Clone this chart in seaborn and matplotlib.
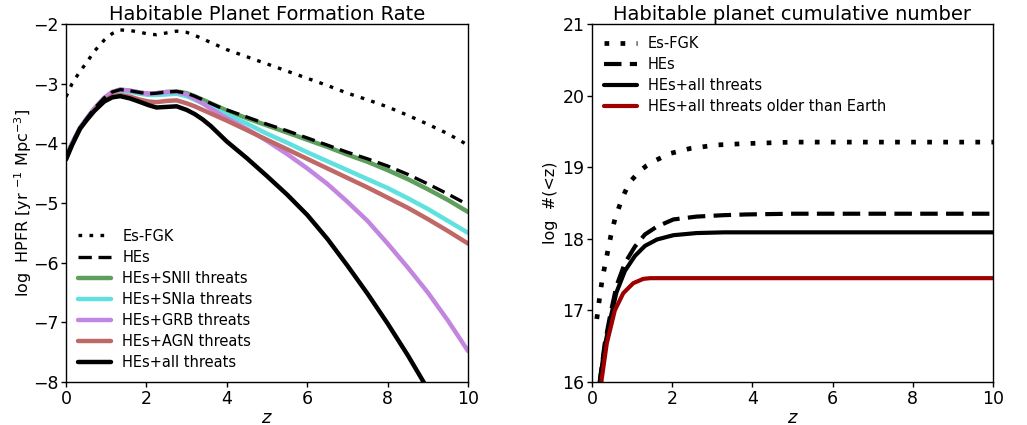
import matplotlib
matplotlib.use("Agg")
import matplotlib.pyplot as plt
import seaborn as sns
import numpy as np

# ---------------- Left panel data (log HPFR) ----------------
z_left = [0.0, 0.15, 0.35, 0.5, 0.7, 0.95, 1.15, 1.35, 1.6, 1.85, 2.05, 2.25, 2.5, 2.75, 3.0, 3.2, 3.4,
          3.6, 3.8, 4.0, 4.5, 5.0, 5.5, 6.0, 6.5, 7.0, 7.5, 8.0, 8.5, 9.0, 9.5, 10.0]

es_fgk = [-3.22, -3.00, -2.79, -2.66, -2.46, -2.27, -2.16, -2.10, -2.11, -2.14, -2.17, -2.18, -2.15, -2.12, -2.14, -2.19, -2.25,
          -2.31, -2.37, -2.43, -2.55, -2.67, -2.79, -2.91, -3.03, -3.16, -3.27, -3.39, -3.53, -3.68, -3.84, -4.03]

hes = [-4.24, -4.00, -3.74, -3.60, -3.42, -3.24, -3.14, -3.10, -3.12, -3.15, -3.17, -3.16, -3.14, -3.13, -3.16, -3.21, -3.27,
       -3.33, -3.39, -3.44, -3.56, -3.68, -3.79, -3.91, -4.03, -4.15, -4.26, -4.38, -4.52, -4.68, -4.85, -5.03]

snii = [-4.24, -4.00, -3.74, -3.60, -3.42, -3.24, -3.14, -3.10, -3.12, -3.15, -3.17, -3.16, -3.14, -3.13, -3.16, -3.21, -3.27,
        -3.33, -3.39, -3.45, -3.58, -3.70, -3.82, -3.94, -4.06, -4.19, -4.31, -4.45, -4.60, -4.77, -4.95, -5.15]

snia = [-4.24, -4.00, -3.74, -3.60, -3.42, -3.25, -3.16, -3.12, -3.14, -3.17, -3.19, -3.19, -3.18, -3.17, -3.21, -3.27, -3.33,
        -3.40, -3.46, -3.52, -3.67, -3.84, -3.99, -4.15, -4.30, -4.45, -4.60, -4.75, -4.92, -5.10, -5.30, -5.50]

grb = [-4.24, -4.00, -3.74, -3.60, -3.42, -3.24, -3.14, -3.10, -3.12, -3.15, -3.17, -3.16, -3.14, -3.14, -3.18, -3.25, -3.33,
       -3.42, -3.50, -3.58, -3.76, -3.96, -4.18, -4.42, -4.68, -4.98, -5.30, -5.68, -6.08, -6.50, -6.97, -7.48]

agn = [-4.26, -4.02, -3.76, -3.62, -3.45, -3.28, -3.21, -3.19, -3.22, -3.27, -3.30, -3.31, -3.29, -3.28, -3.33, -3.38, -3.44,
       -3.50, -3.56, -3.62, -3.78, -3.94, -4.10, -4.26, -4.42, -4.58, -4.74, -4.91, -5.08, -5.27, -5.47, -5.68]

all_thr = [-4.27, -4.03, -3.75, -3.62, -3.46, -3.30, -3.23, -3.21, -3.25, -3.31, -3.36, -3.40, -3.39, -3.38, -3.44, -3.51, -3.60,
           -3.71, -3.84, -3.97, -4.25, -4.55, -4.86, -5.20, -5.60, -6.05, -6.52, -7.02, -7.55, -8.12, -8.70, -9.30]

# ---------------- Right panel data (log cumulative number) ----------------
z_right = [0.12, 0.15, 0.19, 0.26, 0.37, 0.47, 0.57, 0.68, 0.78, 0.88, 0.99, 1.18, 1.36, 1.57, 1.94, 2.44, 3.1, 3.85, 5.0, 7.0, 10.0]

cum_es_fgk = [16.88, 17.00, 17.18, 17.45, 17.76, 18.04, 18.27, 18.45, 18.60, 18.72, 18.82, 18.94, 19.02, 19.09, 19.19, 19.26, 19.31, 19.33, 19.35, 19.35, 19.35]

z_right2 = [0.15, 0.20, 0.32, 0.45, 0.61, 0.82, 1.07, 1.32, 1.62, 2.03, 2.61, 3.3, 3.86, 5.0, 7.0, 10.0]

cum_hes = [15.60, 16.03, 16.54, 16.92, 17.34, 17.66, 17.89, 18.06, 18.17, 18.27, 18.31, 18.33, 18.34, 18.35, 18.35, 18.35]

cum_all = [15.60, 16.03, 16.50, 16.86, 17.25, 17.55, 17.76, 17.90, 17.99, 18.05, 18.08, 18.09, 18.09, 18.09, 18.09, 18.09]

z_right3 = [0.20, 0.24, 0.37, 0.57, 0.78, 1.03, 1.28, 1.45, 2.0, 4.0, 7.0, 10.0]

cum_older = [15.70, 16.03, 16.54, 17.00, 17.24, 17.38, 17.44, 17.45, 17.45, 17.45, 17.45, 17.45]

# ---------------- Plot ----------------
sns.set_style("ticks")
plt.rcParams['font.family'] = ['DejaVu Sans']
plt.rcParams['xtick.labelsize'] = 12.5
plt.rcParams['ytick.labelsize'] = 12.5
for k in ['text.color', 'axes.labelcolor', 'xtick.color', 'ytick.color', 'axes.edgecolor']:
    plt.rcParams[k] = 'black'

fig = plt.figure(figsize=(10.27, 4.25), dpi=100)
ax1 = fig.add_axes([0.0643, 0.1012, 0.3914, 0.8424])
ax2 = fig.add_axes([0.5764, 0.1012, 0.3905, 0.8424])

left_series = [
    (es_fgk, "Es-FGK", "black", (0, (1.1, 2.2)), 2.4),
    (hes, "HEs", "black", (0, (4, 2)), 2.4),
    (snii, "HEs+SNII threats", "#5e9f5e", "-", 3.2),
    (snia, "HEs+SNIa threats", "#60e0df", "-", 3.2),
    (grb, "HEs+GRB threats", "#c286e0", "-", 3.2),
    (agn, "HEs+AGN threats", "#c06868", "-", 3.2),
    (all_thr, "HEs+all threats", "black", "-", 3.2),
]
order = [0, 2, 3, 4, 5, 1, 6]
handles = {}
for i in order:
    y, lab, col, ls, lw = left_series[i]
    sns.lineplot(x=z_left, y=y, ax=ax1, color=col, linestyle=ls, linewidth=lw, label=lab, legend=False)
    handles[i] = ax1.get_lines()[-1]

ax1.legend([handles[i] for i in range(7)], [s[1] for s in left_series],
           loc="lower left", frameon=False, fontsize=10.5, handlelength=2.3,
           handletextpad=0.75, borderaxespad=0.4, labelspacing=0.42)
ax1.set_xlim(0, 10)
ax1.set_ylim(-8, -2)
ax1.set_xticks([0, 2, 4, 6, 8, 10])
ax1.set_yticks([-8, -7, -6, -5, -4, -3, -2])
ax1.set_title("Habitable Planet Formation Rate", fontsize=14, pad=3)
ax1.set_xlabel("$z$", fontsize=13, labelpad=1)
ax1.set_ylabel(r"log  HPFR [yr $^{-1}$ Mpc$^{-3}$]", fontsize=11.5, labelpad=-1)

right_series = [
    (z_right, cum_es_fgk, "Es-FGK", "black", (0, (1.0, 2.4)), 3.4),
    (z_right2, cum_hes, "HEs", "black", (0, (4.2, 2.0)), 3.0),
    (z_right2, cum_all, "HEs+all threats", "black", "-", 3.0),
    (z_right3, cum_older, "HEs+all threats older than Earth", "#9e0000", "-", 3.0),
]
for x, y, lab, col, ls, lw in right_series:
    sns.lineplot(x=x, y=y, ax=ax2, color=col, linestyle=ls, linewidth=lw, label=lab, legend=False)
ax2.legend(loc="upper left", frameon=False, fontsize=10.5, handlelength=2.3,
           handletextpad=0.75, borderaxespad=0.4, labelspacing=0.42)
ax2.set_xlim(0, 10)
ax2.set_ylim(16, 21)
ax2.set_xticks([0, 2, 4, 6, 8, 10])
ax2.set_yticks([16, 17, 18, 19, 20, 21])
ax2.set_title("Habitable planet cumulative number", fontsize=14, pad=3)
ax2.set_xlabel("$z$", fontsize=13, labelpad=1)
ax2.set_ylabel("log  #(<z)", fontsize=11.5, labelpad=3)

for ax in (ax1, ax2):
    for s in ax.spines.values():
        s.set_linewidth(1.0)
        s.set_color("black")
    ax.tick_params(length=3.5, width=1, direction="out", pad=2, colors="black")

fig.savefig("out.png", dpi=100)
